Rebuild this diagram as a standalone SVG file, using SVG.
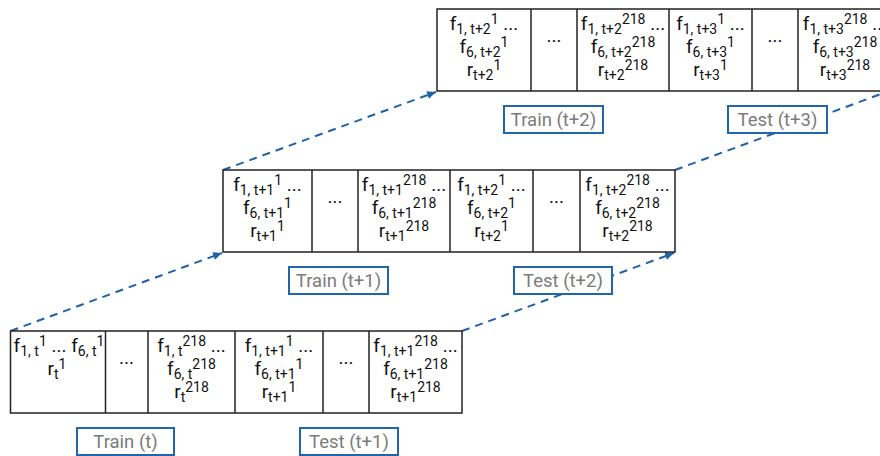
<svg xmlns="http://www.w3.org/2000/svg" width="880" height="456" viewBox="0 0 880 456">
<defs>
<style>
.cell{fill:#fff;stroke:#222;stroke-width:1.5}
.t{font-family:Roboto,"Liberation Sans",sans-serif;font-size:19px;fill:#111;text-anchor:middle}
.s{font-size:14px}
.lb{fill:#fff;stroke:#2166ac;stroke-width:2}
.lt{font-family:Roboto,"Liberation Sans",sans-serif;font-size:18.5px;fill:#7b7b7b;text-anchor:middle}
.dl{fill:none;stroke:#1f62a9;stroke-width:2;stroke-dasharray:8 6}
</style>
<marker id="ah" markerWidth="10" markerHeight="10" refX="9" refY="5" orient="auto" markerUnits="userSpaceOnUse">
<path d="M0,1 L9,5 L0,9 Z" fill="#1f62a9"/>
</marker>
</defs>
<rect width="880" height="456" fill="#fff"/>

<g id="connectors">
<line class="dl" x1="10.5" y1="331" x2="222" y2="253" marker-end="url(#ah)"/>
<line class="dl" x1="223" y1="170" x2="436" y2="92" marker-end="url(#ah)"/>
<line class="dl" x1="462" y1="331" x2="674" y2="253" marker-end="url(#ah)"/>
<line class="dl" x1="675" y1="170" x2="889" y2="91" marker-end="url(#ah)"/>
</g>

<g id="row-t">
<rect class="cell" x="10.5" y="331" width="451.5" height="82"/>
<line class="cell" x1="105.5" y1="331" x2="105.5" y2="413"/>
<line class="cell" x1="148" y1="331" x2="148" y2="413"/>
<line class="cell" x1="235" y1="331" x2="235" y2="413"/>
<line class="cell" x1="323" y1="331" x2="323" y2="413"/>
<line class="cell" x1="369" y1="331" x2="369" y2="413"/>
<text class="t" x="59" y="352">f<tspan class="s" dy="4">1, t</tspan><tspan class="s" dy="-10">1</tspan><tspan dy="6"> ... f</tspan><tspan class="s" dy="4">6, t</tspan><tspan class="s" dy="-10">1</tspan></text>
<text class="t" x="57" y="375">r<tspan class="s" dy="4">t</tspan><tspan class="s" dy="-10">1</tspan></text>
<text class="t" x="126.5" y="364">...</text>
<text class="t" x="191.5" y="352">f<tspan class="s" dy="4">1, t</tspan><tspan class="s" dy="-10">218</tspan><tspan dy="6"> ...</tspan></text>
<text class="t" x="191.5" y="375">f<tspan class="s" dy="4">6, t</tspan><tspan class="s" dy="-10">218</tspan></text>
<text class="t" x="191.5" y="398">r<tspan class="s" dy="4">t</tspan><tspan class="s" dy="-10">218</tspan></text>
<text class="t" x="279" y="352">f<tspan class="s" dy="4">1, t+1</tspan><tspan class="s" dy="-10">1</tspan><tspan dy="6"> ...</tspan></text>
<text class="t" x="279" y="375">f<tspan class="s" dy="4">6, t+1</tspan><tspan class="s" dy="-10">1</tspan></text>
<text class="t" x="279" y="398">r<tspan class="s" dy="4">t+1</tspan><tspan class="s" dy="-10">1</tspan></text>
<text class="t" x="346" y="364">...</text>
<text class="t" x="415.5" y="352">f<tspan class="s" dy="4">1, t+1</tspan><tspan class="s" dy="-10">218</tspan><tspan dy="6"> ...</tspan></text>
<text class="t" x="415.5" y="375">f<tspan class="s" dy="4">6, t+1</tspan><tspan class="s" dy="-10">218</tspan></text>
<text class="t" x="415.5" y="398">r<tspan class="s" dy="4">t+1</tspan><tspan class="s" dy="-10">218</tspan></text>
</g>

<g id="row-t1">
<rect class="cell" x="223" y="170" width="452" height="82"/>
<line class="cell" x1="312" y1="170" x2="312" y2="252"/>
<line class="cell" x1="358" y1="170" x2="358" y2="252"/>
<line class="cell" x1="450" y1="170" x2="450" y2="252"/>
<line class="cell" x1="533" y1="170" x2="533" y2="252"/>
<line class="cell" x1="580" y1="170" x2="580" y2="252"/>
<text class="t" x="267.5" y="191">f<tspan class="s" dy="4">1, t+1</tspan><tspan class="s" dy="-10">1</tspan><tspan dy="6"> ...</tspan></text>
<text class="t" x="267.5" y="214">f<tspan class="s" dy="4">6, t+1</tspan><tspan class="s" dy="-10">1</tspan></text>
<text class="t" x="267.5" y="237">r<tspan class="s" dy="4">t+1</tspan><tspan class="s" dy="-10">1</tspan></text>
<text class="t" x="335" y="203">...</text>
<text class="t" x="404" y="191">f<tspan class="s" dy="4">1, t+1</tspan><tspan class="s" dy="-10">218</tspan><tspan dy="6"> ...</tspan></text>
<text class="t" x="404" y="214">f<tspan class="s" dy="4">6, t+1</tspan><tspan class="s" dy="-10">218</tspan></text>
<text class="t" x="404" y="237">r<tspan class="s" dy="4">t+1</tspan><tspan class="s" dy="-10">218</tspan></text>
<text class="t" x="491.5" y="191">f<tspan class="s" dy="4">1, t+2</tspan><tspan class="s" dy="-10">1</tspan><tspan dy="6"> ...</tspan></text>
<text class="t" x="491.5" y="214">f<tspan class="s" dy="4">6, t+2</tspan><tspan class="s" dy="-10">1</tspan></text>
<text class="t" x="491.5" y="237">r<tspan class="s" dy="4">t+2</tspan><tspan class="s" dy="-10">1</tspan></text>
<text class="t" x="556.5" y="203">...</text>
<text class="t" x="627.5" y="191">f<tspan class="s" dy="4">1, t+2</tspan><tspan class="s" dy="-10">218</tspan><tspan dy="6"> ...</tspan></text>
<text class="t" x="627.5" y="214">f<tspan class="s" dy="4">6, t+2</tspan><tspan class="s" dy="-10">218</tspan></text>
<text class="t" x="627.5" y="237">r<tspan class="s" dy="4">t+2</tspan><tspan class="s" dy="-10">218</tspan></text>
</g>

<g id="row-t2">
<rect class="cell" x="437" y="9" width="460" height="82"/>
<line class="cell" x1="531" y1="9" x2="531" y2="91"/>
<line class="cell" x1="577" y1="9" x2="577" y2="91"/>
<line class="cell" x1="669" y1="9" x2="669" y2="91"/>
<line class="cell" x1="752" y1="9" x2="752" y2="91"/>
<line class="cell" x1="798" y1="9" x2="798" y2="91"/>
<text class="t" x="484" y="30">f<tspan class="s" dy="4">1, t+2</tspan><tspan class="s" dy="-10">1</tspan><tspan dy="6"> ...</tspan></text>
<text class="t" x="484" y="53">f<tspan class="s" dy="4">6, t+2</tspan><tspan class="s" dy="-10">1</tspan></text>
<text class="t" x="484" y="76">r<tspan class="s" dy="4">t+2</tspan><tspan class="s" dy="-10">1</tspan></text>
<text class="t" x="554" y="42">...</text>
<text class="t" x="623" y="30">f<tspan class="s" dy="4">1, t+2</tspan><tspan class="s" dy="-10">218</tspan><tspan dy="6"> ...</tspan></text>
<text class="t" x="623" y="53">f<tspan class="s" dy="4">6, t+2</tspan><tspan class="s" dy="-10">218</tspan></text>
<text class="t" x="623" y="76">r<tspan class="s" dy="4">t+2</tspan><tspan class="s" dy="-10">218</tspan></text>
<text class="t" x="710.5" y="30">f<tspan class="s" dy="4">1, t+3</tspan><tspan class="s" dy="-10">1</tspan><tspan dy="6"> ...</tspan></text>
<text class="t" x="710.5" y="53">f<tspan class="s" dy="4">6, t+3</tspan><tspan class="s" dy="-10">1</tspan></text>
<text class="t" x="710.5" y="76">r<tspan class="s" dy="4">t+3</tspan><tspan class="s" dy="-10">1</tspan></text>
<text class="t" x="775" y="42">...</text>
<text class="t" x="845" y="30">f<tspan class="s" dy="4">1, t+3</tspan><tspan class="s" dy="-10">218</tspan><tspan dy="6"> ...</tspan></text>
<text class="t" x="845" y="53">f<tspan class="s" dy="4">6, t+3</tspan><tspan class="s" dy="-10">218</tspan></text>
<text class="t" x="845" y="76">r<tspan class="s" dy="4">t+3</tspan><tspan class="s" dy="-10">218</tspan></text>
</g>

<g id="label-train-t"><rect class="lb" x="77" y="428" width="97" height="27"/><text class="lt" x="125.5" y="448">Train (t)</text></g>
<g id="label-test-t1"><rect class="lb" x="300" y="428" width="98" height="27"/><text class="lt" x="349" y="448">Test (t+1)</text></g>
<g id="label-train-t1"><rect class="lb" x="289" y="267" width="99" height="27"/><text class="lt" x="338.5" y="287">Train (t+1)</text></g>
<g id="label-test-t2"><rect class="lb" x="514" y="267" width="98" height="27"/><text class="lt" x="563" y="287">Test (t+2)</text></g>
<g id="label-train-t2"><rect class="lb" x="504" y="106" width="99" height="27"/><text class="lt" x="553.5" y="126">Train (t+2)</text></g>
<g id="label-test-t3"><rect class="lb" x="728" y="106" width="99" height="27"/><text class="lt" x="777.5" y="126">Test (t+3)</text></g>
</svg>
